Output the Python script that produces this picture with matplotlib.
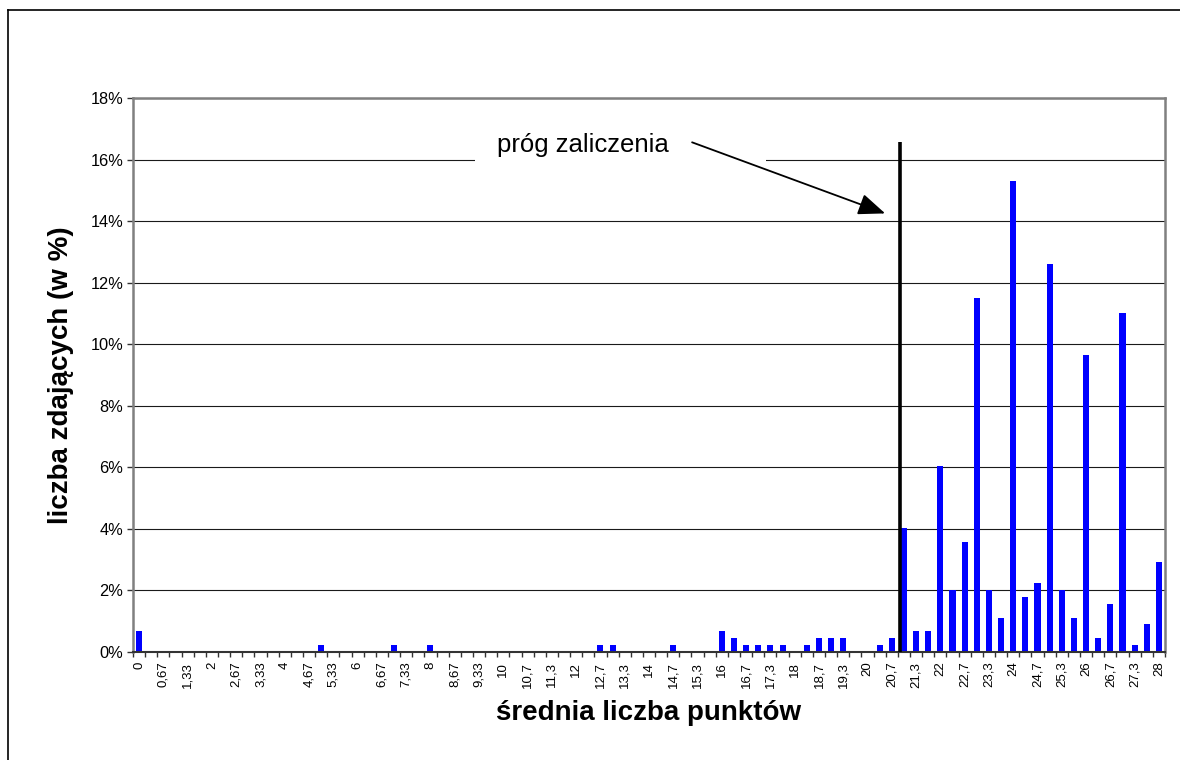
import matplotlib
matplotlib.use("Agg")
import matplotlib.pyplot as plt
from matplotlib.patches import Rectangle
from matplotlib.lines import Line2D
from matplotlib.ticker import FixedLocator, FuncFormatter

plt.rcParams['font.family'] = ['Liberation Sans', 'DejaVu Sans']

# ---- data ----
categories = [
    "0", "0,33", "0,67", "1", "1,33", "1,67", "2", "2,33", "2,67", "3",
    "3,33", "3,67", "4", "4,33", "4,67", "5", "5,33", "5,67", "6", "6,33",
    "6,67", "7", "7,33", "7,67", "8", "8,33", "8,67", "9", "9,33", "9,67",
    "10", "10,3", "10,7", "11", "11,3", "11,7", "12", "12,3", "12,7", "13",
    "13,3", "13,7", "14", "14,3", "14,7", "15", "15,3", "15,7", "16", "16,3",
    "16,7", "17", "17,3", "17,7", "18", "18,3", "18,7", "19", "19,3", "19,7",
    "20", "20,3", "20,7", "21", "21,3", "21,7", "22", "22,3", "22,7", "23",
    "23,3", "23,7", "24", "24,3", "24,7", "25", "25,3", "25,7", "26", "26,3",
    "26,7", "27", "27,3", "27,7", "28",
]
values = [
    0.67, 0, 0, 0, 0, 0, 0, 0, 0, 0,
    0, 0, 0, 0, 0, 0.22, 0, 0, 0, 0,
    0, 0.22, 0, 0, 0.22, 0, 0, 0, 0, 0,
    0, 0, 0, 0, 0, 0, 0, 0, 0.22, 0.22,
    0, 0, 0, 0, 0.22, 0, 0, 0, 0.67, 0.45,
    0.22, 0.22, 0.22, 0.22, 0, 0.22, 0.45, 0.45, 0.45, 0,
    0, 0.22, 0.45, 4.04, 0.67, 0.67, 6.05, 2.02, 3.59, 11.5,
    2.02, 1.12, 15.3, 1.79, 2.24, 12.6, 2.02, 1.12, 9.66, 0.45,
    1.57, 11.0, 0.22, 0.90, 2.91,
]
y_ticks = [0, 2, 4, 6, 8, 10, 12, 14, 16, 18]
threshold_pos = 62.68      # position of the pass threshold line (category index)
threshold_top = 16.56
annotation_text = "próg zaliczenia"
x_title = "średnia liczba punktów"
y_title = "liczba zdających (w %)"

# ---- figure ----
fig = plt.figure(figsize=(11.8, 7.6), dpi=100)
W, H = 1180, 760
ax = fig.add_axes([133 / W, 1 - 652 / H, (1165 - 133) / W, (652 - 98) / H])

x = list(range(len(categories)))
ax.bar(x, values, width=0.5, color="#0000FF", zorder=2)

ax.set_xlim(-0.5, len(categories) - 0.5)
ax.set_ylim(0, 18)

# gridlines
ax.set_axisbelow(True)
ax.yaxis.grid(True, color="#1a1a1a", linewidth=0.8)
ax.xaxis.grid(False)

# y axis
ax.set_yticks(y_ticks)
ax.yaxis.set_major_formatter(FuncFormatter(lambda v, p: f"{int(round(v))}%"))
ax.tick_params(axis="y", direction="out", length=4, width=1, color="#333333",
               labelsize=11.8, pad=3)

# x axis: labels every other category, ticks at category boundaries
ax.set_xticks(x[::2])
ax.set_xticklabels(categories[::2], rotation=90, fontsize=9.5)
ax.tick_params(axis="x", which="major", length=0, pad=7)
ax.xaxis.set_minor_locator(FixedLocator([i - 0.5 for i in range(len(categories) + 1)]))
ax.tick_params(axis="x", which="minor", direction="out", length=3.5, width=1, color="#333333")

for s in ["left", "top", "right"]:
    ax.spines[s].set_color("#808080")
    ax.spines[s].set_linewidth(1.8)
ax.spines["bottom"].set_color("#333333")
ax.spines["bottom"].set_linewidth(1.5)

ax.set_xlabel(x_title, fontsize=20, fontweight="bold", labelpad=9)
ax.set_ylabel(y_title, fontsize=20, fontweight="bold", labelpad=12)

# threshold line
ax.plot([threshold_pos, threshold_pos], [0, threshold_top], color="black",
        linewidth=2.6, zorder=4, solid_capstyle="butt")

# annotation box + text + arrow
ax.add_patch(Rectangle((27.7, 15.6), 23.9, 1.6, facecolor="white",
                       edgecolor="none", zorder=1))
ax.text(29.5, 16.23, annotation_text, fontsize=18.5, va="baseline", ha="left", zorder=5)
ax.annotate("", xy=(61.45, 14.25), xytext=(45.55, 16.56),
            arrowprops=dict(arrowstyle="-|>,head_length=0.55,head_width=0.22",
                            mutation_scale=30, color="black", lw=1.3,
                            shrinkA=0, shrinkB=0), zorder=5)

# outer frame (top and left edges visible)
fig.add_artist(Line2D([8 / W, 8 / W], [0, 1 - 10 / H], transform=fig.transFigure,
                      color="black", linewidth=1.2))
fig.add_artist(Line2D([8 / W, 1], [1 - 10 / H, 1 - 10 / H], transform=fig.transFigure,
                      color="black", linewidth=1.2))

fig.savefig("out.png", dpi=100)
